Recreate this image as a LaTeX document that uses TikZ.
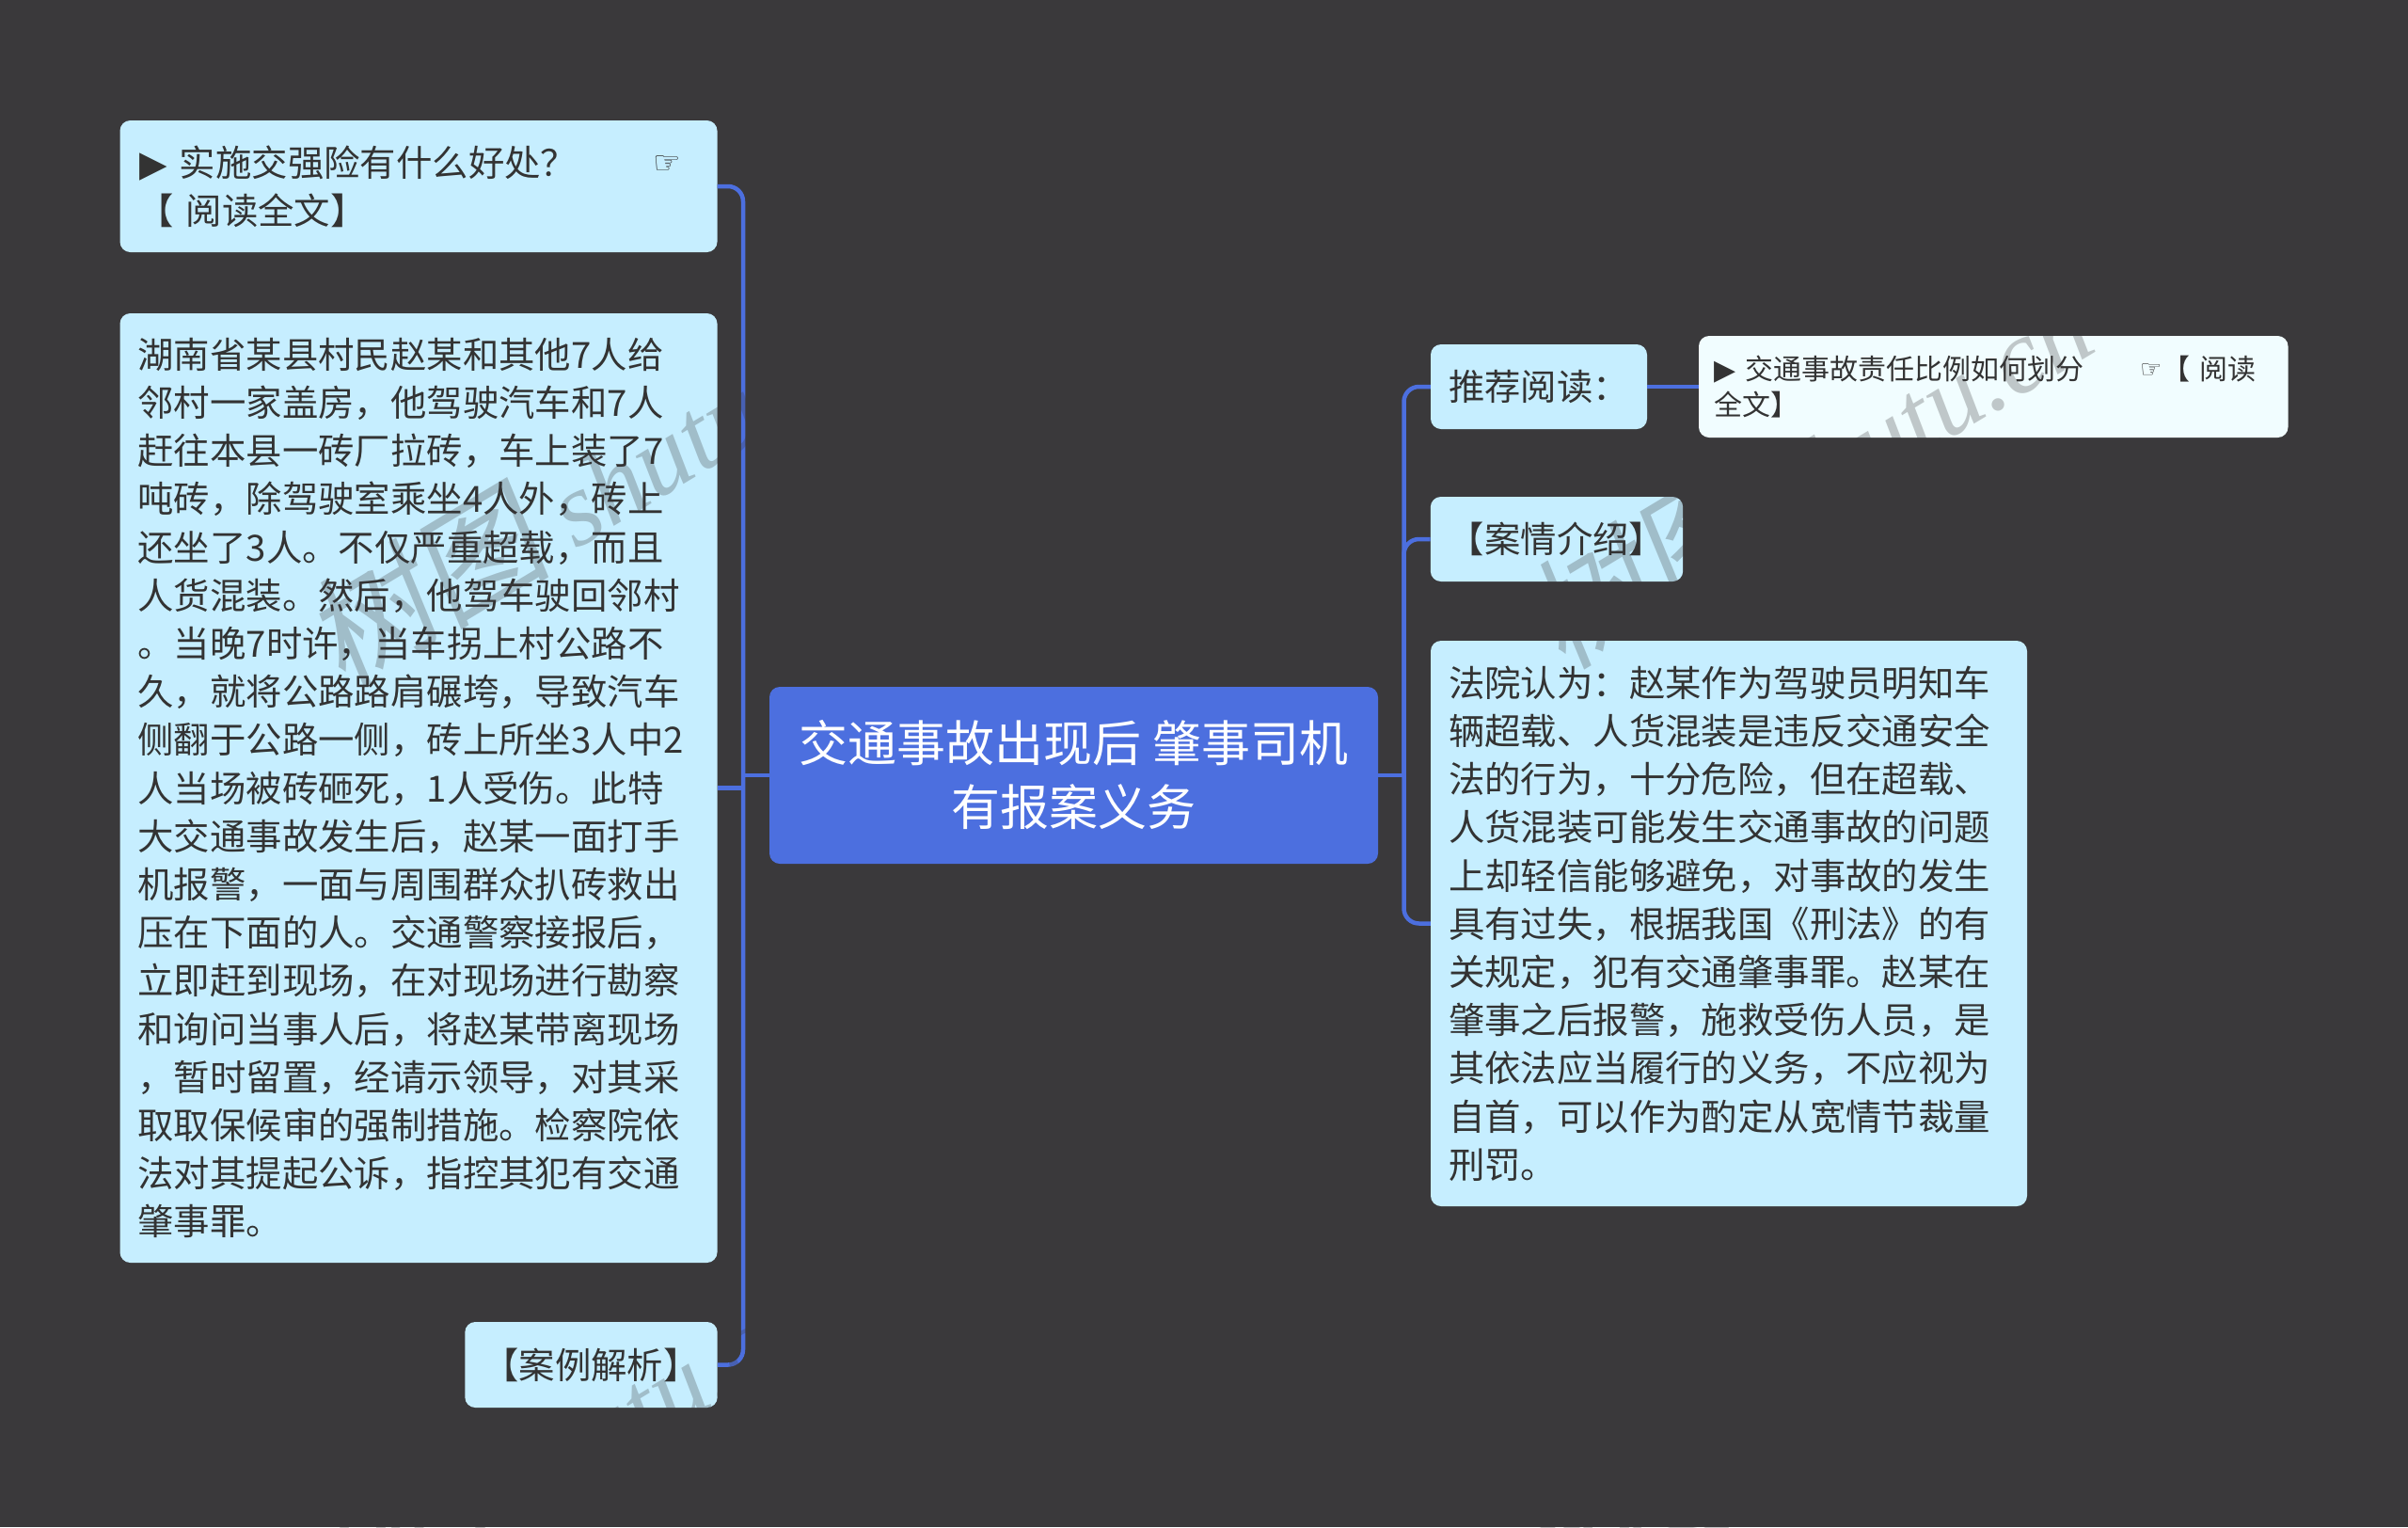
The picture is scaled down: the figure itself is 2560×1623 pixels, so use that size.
\documentclass[tikz,border=0pt]{standalone}
\usepackage{fontspec}
\usepackage{xcolor}
\setmainfont{Noto Sans CJK SC}
\newfontfamily\symfont{DejaVu Sans}
\newfontfamily\markfont{Liberation Serif}
\newfontfamily\markcjk[FakeSlant=0.15]{Noto Sans CJK SC}
\definecolor{pagebg}{HTML}{3A393B}
\definecolor{leafblue}{HTML}{C6EEFF}
\definecolor{leafwhite}{HTML}{F1FDFF}
\definecolor{rootblue}{HTML}{4C6FDF}
\definecolor{inkgray}{HTML}{333333}

\begin{document}
\begin{tikzpicture}[
  x=1pt, y=-1pt,
  leaf/.style={fill=leafblue, text=inkgray, rounded corners=11pt, inner xsep=19pt, inner ysep=0pt, align=left, font=\fontsize{38.4}{51.2}\selectfont},
  card/.style={leaf, fill=leafwhite, inner xsep=16pt, font=\fontsize{30}{38}\selectfont},
  topic/.style={fill=rootblue, text=white, rounded corners=11pt, inner sep=0pt, align=center, font=\fontsize{52}{68}\selectfont},
  link/.style={draw=rootblue, line width=4.5pt},
  elbow/.style={link, rounded corners=16pt},
  stamp/.style={text=pagebg, text opacity=0.27, rotate=31, font=\markfont\itshape\fontsize{112}{112}\selectfont}
]
  \useasboundingbox (0,0) rectangle (2560,1623);
  \fill[pagebg] (0,0) rectangle (2560,1623);

  % Central topic
  \node[topic, minimum width=647pt, minimum height=188pt] (root) at (1141.5,824) {交通事故出现后 肇事司机\\有报案义务};

  % Left branch
  \node[leaf, text width=597pt, minimum height=140pt] (benefit) at (445,198) {\hspace{2pt}{\symfont ▶} 实施交强险有什么好处？\hspace{81pt}\raisebox{3pt}{\symfont\fontsize{33}{33}\selectfont ☞}\\【 阅读全文】};
  \node[leaf, text width=597pt, minimum height=1009pt] (detail) at (445,837.5) {湖南省某县村民赵某和其他7人给\\
邻村一家盖房，他驾驶汽车和7人\\
赶往本县一砖厂拉砖，车上装了7\\
吨砖，除驾驶室乘坐4人外，砖上\\
还坐了3人。不仅严重超载，而且\\
人货混装。然后，他驾车驶回邻村\\
。当晚7时许，当车拐上村公路不\\
久，就将公路路肩碾垮，导致汽车\\
侧翻于公路一侧，砖上所坐3人中2\\
人当场被砖砸死，1人受伤。此特\\
大交通事故发生后，赵某一面打手\\
机报警，一面与周围群众扒砖救出\\
压在下面的人。交通警察接报后，\\
立即赶到现场，在对现场进行勘察\\
和询问当事人后，将赵某带离现场\\
，暂时留置，经请示领导，对其采\\
取取保候审的强制措施。检察院依\\
法对其提起公诉，指控其犯有交通\\
肇事罪。};
  \node[leaf, minimum height=91pt] (analysis) at (628.5,1450.5) {【案例解析】};

  % Right branch
  \node[leaf, minimum height=90pt] (reading) at (1636,411) {推荐阅读：};
  \node[card, text width=594.5pt, minimum height=108pt] (article) at (2119.25,411) {{\symfont ▶} 交通事故责任比例如何划分\hspace{60pt}\raisebox{2pt}{\symfont\fontsize{26}{26}\selectfont ☞}【 阅读\\全文】};
  \node[leaf, minimum height=90pt] (intro) at (1655,573) {【案情介绍】};
  \node[leaf, text width=596pt, minimum height=601pt] (verdict) at (1838,981.5) {法院认为：赵某作为驾驶员明知车\\
辆超载、人货混装是违反交通安全\\
法的行为，十分危险，但在超载、\\
人货混装可能发生交通事故的问题\\
上却轻信能够避免，对事故的发生\\
具有过失，根据我国《刑法》的有\\
关规定，犯有交通肇事罪。赵某在\\
肇事之后报警，施救受伤人员，是\\
其依法应当履行的义务，不应视为\\
自首，可以作为酌定从宽情节裁量\\
刑罚。};

  % Connectors
  \coordinate (lbus) at (790,824);
  \coordinate (rbus) at (1492.5,824);
  \draw[link] (root.west) -- (lbus);
  \draw[link] (root.east) -- (rbus);
  \draw[link] (detail.east) -- (detail.east -| lbus);
  \draw[elbow] (lbus) |- (benefit.east);
  \draw[elbow] (lbus) |- (analysis.east);
  \draw[elbow] (rbus) |- (reading.west);
  \draw[elbow] (rbus) |- (intro.west);
  \draw[elbow] (rbus) |- (verdict.west);
  \draw[link] (reading) -- (article);

  % Watermarks
  \foreach \mx/\my/\mk in {625/519/a, 1922/500/b, 567/1552/c, 1880/1530/d}
    \node[stamp] (stamp\mk) at (\mx,\my) {{\markcjk\fontsize{130}{130}\selectfont 树图} shutu.cn};
\end{tikzpicture}
\end{document}
